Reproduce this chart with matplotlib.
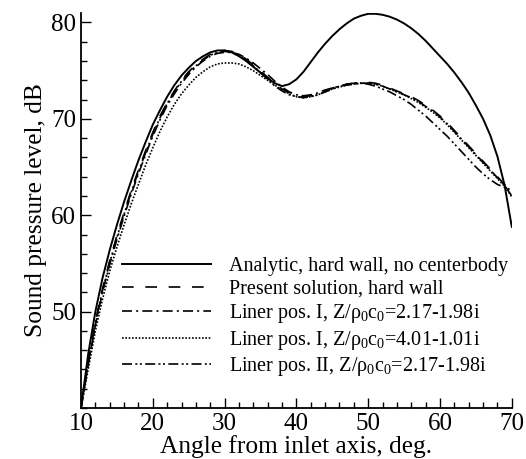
import matplotlib
matplotlib.use("Agg")
import matplotlib.pyplot as plt
from matplotlib.ticker import MultipleLocator

# --- Data ---
angle = [10, 11, 12, 13, 14, 15, 16, 17, 18, 19, 20, 21, 22, 23, 24, 25, 26, 27, 28, 29,
         30, 31, 32, 33, 34, 35, 36, 37, 38, 39, 40, 41, 42, 43, 44, 45, 46, 47, 48, 49,
         50, 51, 52, 53, 54, 55, 56, 57, 58, 59, 60, 61, 62, 63, 64, 65, 66, 67, 68, 69, 70]

analytic = [40.0, 45.6, 50.0, 53.5, 56.4, 59.0, 61.4, 63.6, 65.7, 67.6, 69.4, 70.9, 72.3, 73.5,
            74.5, 75.3, 76.0, 76.5, 76.9, 77.1, 77.1, 76.9, 76.5, 76.0, 75.4, 74.8, 74.2, 73.7,
            73.4, 73.6, 74.1, 74.9, 75.9, 76.9, 77.8, 78.6, 79.3, 79.9, 80.4, 80.7, 80.9, 80.9,
            80.8, 80.6, 80.3, 79.9, 79.4, 78.8, 78.1, 77.3, 76.5, 75.7, 74.8, 73.8, 72.7, 71.4,
            70.0, 68.3, 66.1, 63.1, 58.8]

hard_wall = [40.0, 44.8, 49.0, 52.4, 55.3, 57.9, 60.3, 62.6, 64.7, 66.7, 68.6, 70.3, 71.7, 72.9,
             74.0, 74.9, 75.6, 76.2, 76.7, 77.0, 77.1, 77.0, 76.7, 76.2, 75.6, 75.0, 74.3, 73.7,
             73.1, 72.7, 72.4, 72.3, 72.4, 72.6, 72.9, 73.2, 73.4, 73.6, 73.7, 73.8, 73.8, 73.7,
             73.5, 73.2, 72.9, 72.6, 72.3, 71.9, 71.4, 70.9, 70.3, 69.6, 68.8, 68.0, 67.2, 66.4,
             65.6, 64.8, 64.0, 63.2, 62.2]

liner1a = [40.0, 44.5, 48.6, 52.0, 54.9, 57.5, 59.9, 62.2, 64.3, 66.3, 68.2, 69.9, 71.4, 72.6,
           73.7, 74.6, 75.4, 76.0, 76.5, 76.8, 76.9, 76.9, 76.7, 76.3, 75.8, 75.2, 74.6, 73.9,
           73.3, 72.8, 72.5, 72.4, 72.5, 72.7, 73.0, 73.2, 73.4, 73.5, 73.6, 73.7, 73.7, 73.6,
           73.4, 73.1, 72.8, 72.5, 72.2, 71.8, 71.3, 70.8, 70.2, 69.5, 68.7, 67.9, 67.1, 66.3,
           65.5, 64.7, 63.9, 63.1, 62.0]

liner1b = [40.0, 44.0, 48.0, 51.3, 54.2, 56.7, 59.0, 61.2, 63.2, 65.2, 67.0, 68.7, 70.2, 71.5,
           72.6, 73.5, 74.3, 74.9, 75.4, 75.7, 75.8, 75.8, 75.7, 75.4, 75.0, 74.5, 74.0, 73.5,
           73.0, 72.6, 72.3, 72.2, 72.3, 72.5, 72.8, 73.1, 73.3, 73.5, 73.6, 73.7, 73.7, 73.6,
           73.4, 73.1, 72.8, 72.5, 72.1, 71.7, 71.2, 70.7, 70.1, 69.4, 68.6, 67.8, 67.0, 66.2,
           65.4, 64.6, 63.8, 63.0, 61.9]

liner2 = [40.0, 44.6, 48.8, 52.2, 55.1, 57.7, 60.1, 62.4, 64.5, 66.5, 68.4, 70.1, 71.6, 72.8,
          73.9, 74.8, 75.5, 76.1, 76.6, 76.9, 77.0, 76.9, 76.6, 76.1, 75.5, 74.8, 74.1, 73.4,
          72.9, 72.5, 72.3, 72.2, 72.3, 72.5, 72.8, 73.1, 73.4, 73.6, 73.7, 73.7, 73.6, 73.4,
          73.1, 72.8, 72.4, 72.0, 71.5, 70.9, 70.3, 69.6, 68.9, 68.2, 67.4, 66.6, 65.8, 65.0,
          64.3, 63.7, 63.2, 62.9, 62.6]

labels = ["Analytic, hard wall, no centerbody",
          "Present solution, hard wall",
          r"Liner pos. I, Z/$\rho_0$c$_0$=2.17-1.98i",
          r"Liner pos. I, Z/$\rho_0$c$_0$=4.01-1.01i",
          r"Liner pos. II, Z/$\rho_0$c$_0$=2.17-1.98i"]

plt.rcParams["font.family"] = "Liberation Serif"
plt.rcParams["mathtext.fontset"] = "custom"
plt.rcParams["mathtext.rm"] = "Liberation Serif"
plt.rcParams["mathtext.it"] = "Liberation Serif"

fig = plt.figure(figsize=(5.26, 4.59), dpi=100)
ax = fig.add_axes([0.154, 0.111, 0.819, 0.861])

lw = 1.2
ax.plot(angle, analytic, color="black", lw=1.4, label=labels[0])
ax.plot(angle, hard_wall, color="black", lw=lw, dashes=(7, 7), label=labels[1])
ax.plot(angle, liner1a, color="black", lw=lw, dashes=(6, 2.5, 1.2, 2.5), label=labels[2])
ax.plot(angle, liner1b, color="black", lw=lw, dashes=(1, 1), label=labels[3])
ax.plot(angle, liner2, color="black", lw=lw, dashes=(6, 2, 1.2, 1.5, 1.2, 2), label=labels[4])

ax.set_xlim(10, 70)
ax.set_ylim(40, 81)
ax.xaxis.set_major_locator(MultipleLocator(10))
ax.xaxis.set_minor_locator(MultipleLocator(2))
ax.yaxis.set_major_locator(MultipleLocator(10))
ax.yaxis.set_minor_locator(MultipleLocator(2))
ax.set_yticks([50, 60, 70, 80])
ax.tick_params(which="both", direction="in", width=1.0, labelsize=18)
ax.tick_params(which="major", length=7)
ax.tick_params(which="minor", length=4)
ax.spines["top"].set_visible(False)
ax.spines["right"].set_visible(False)
ax.spines["left"].set_linewidth(1.3)
ax.spines["bottom"].set_linewidth(1.3)

ax.set_xlabel("Angle from inlet axis, deg.", fontsize=18.3, labelpad=0)
ax.set_ylabel("Sound pressure level, dB", fontsize=18.3, labelpad=3)

ax.legend(loc="lower right", bbox_to_anchor=(1.014, 0.05), frameon=False, fontsize=14.5,
          handlelength=4.4, handletextpad=0.9, labelspacing=0.17, borderpad=0)

fig.savefig("out.png", dpi=100)
